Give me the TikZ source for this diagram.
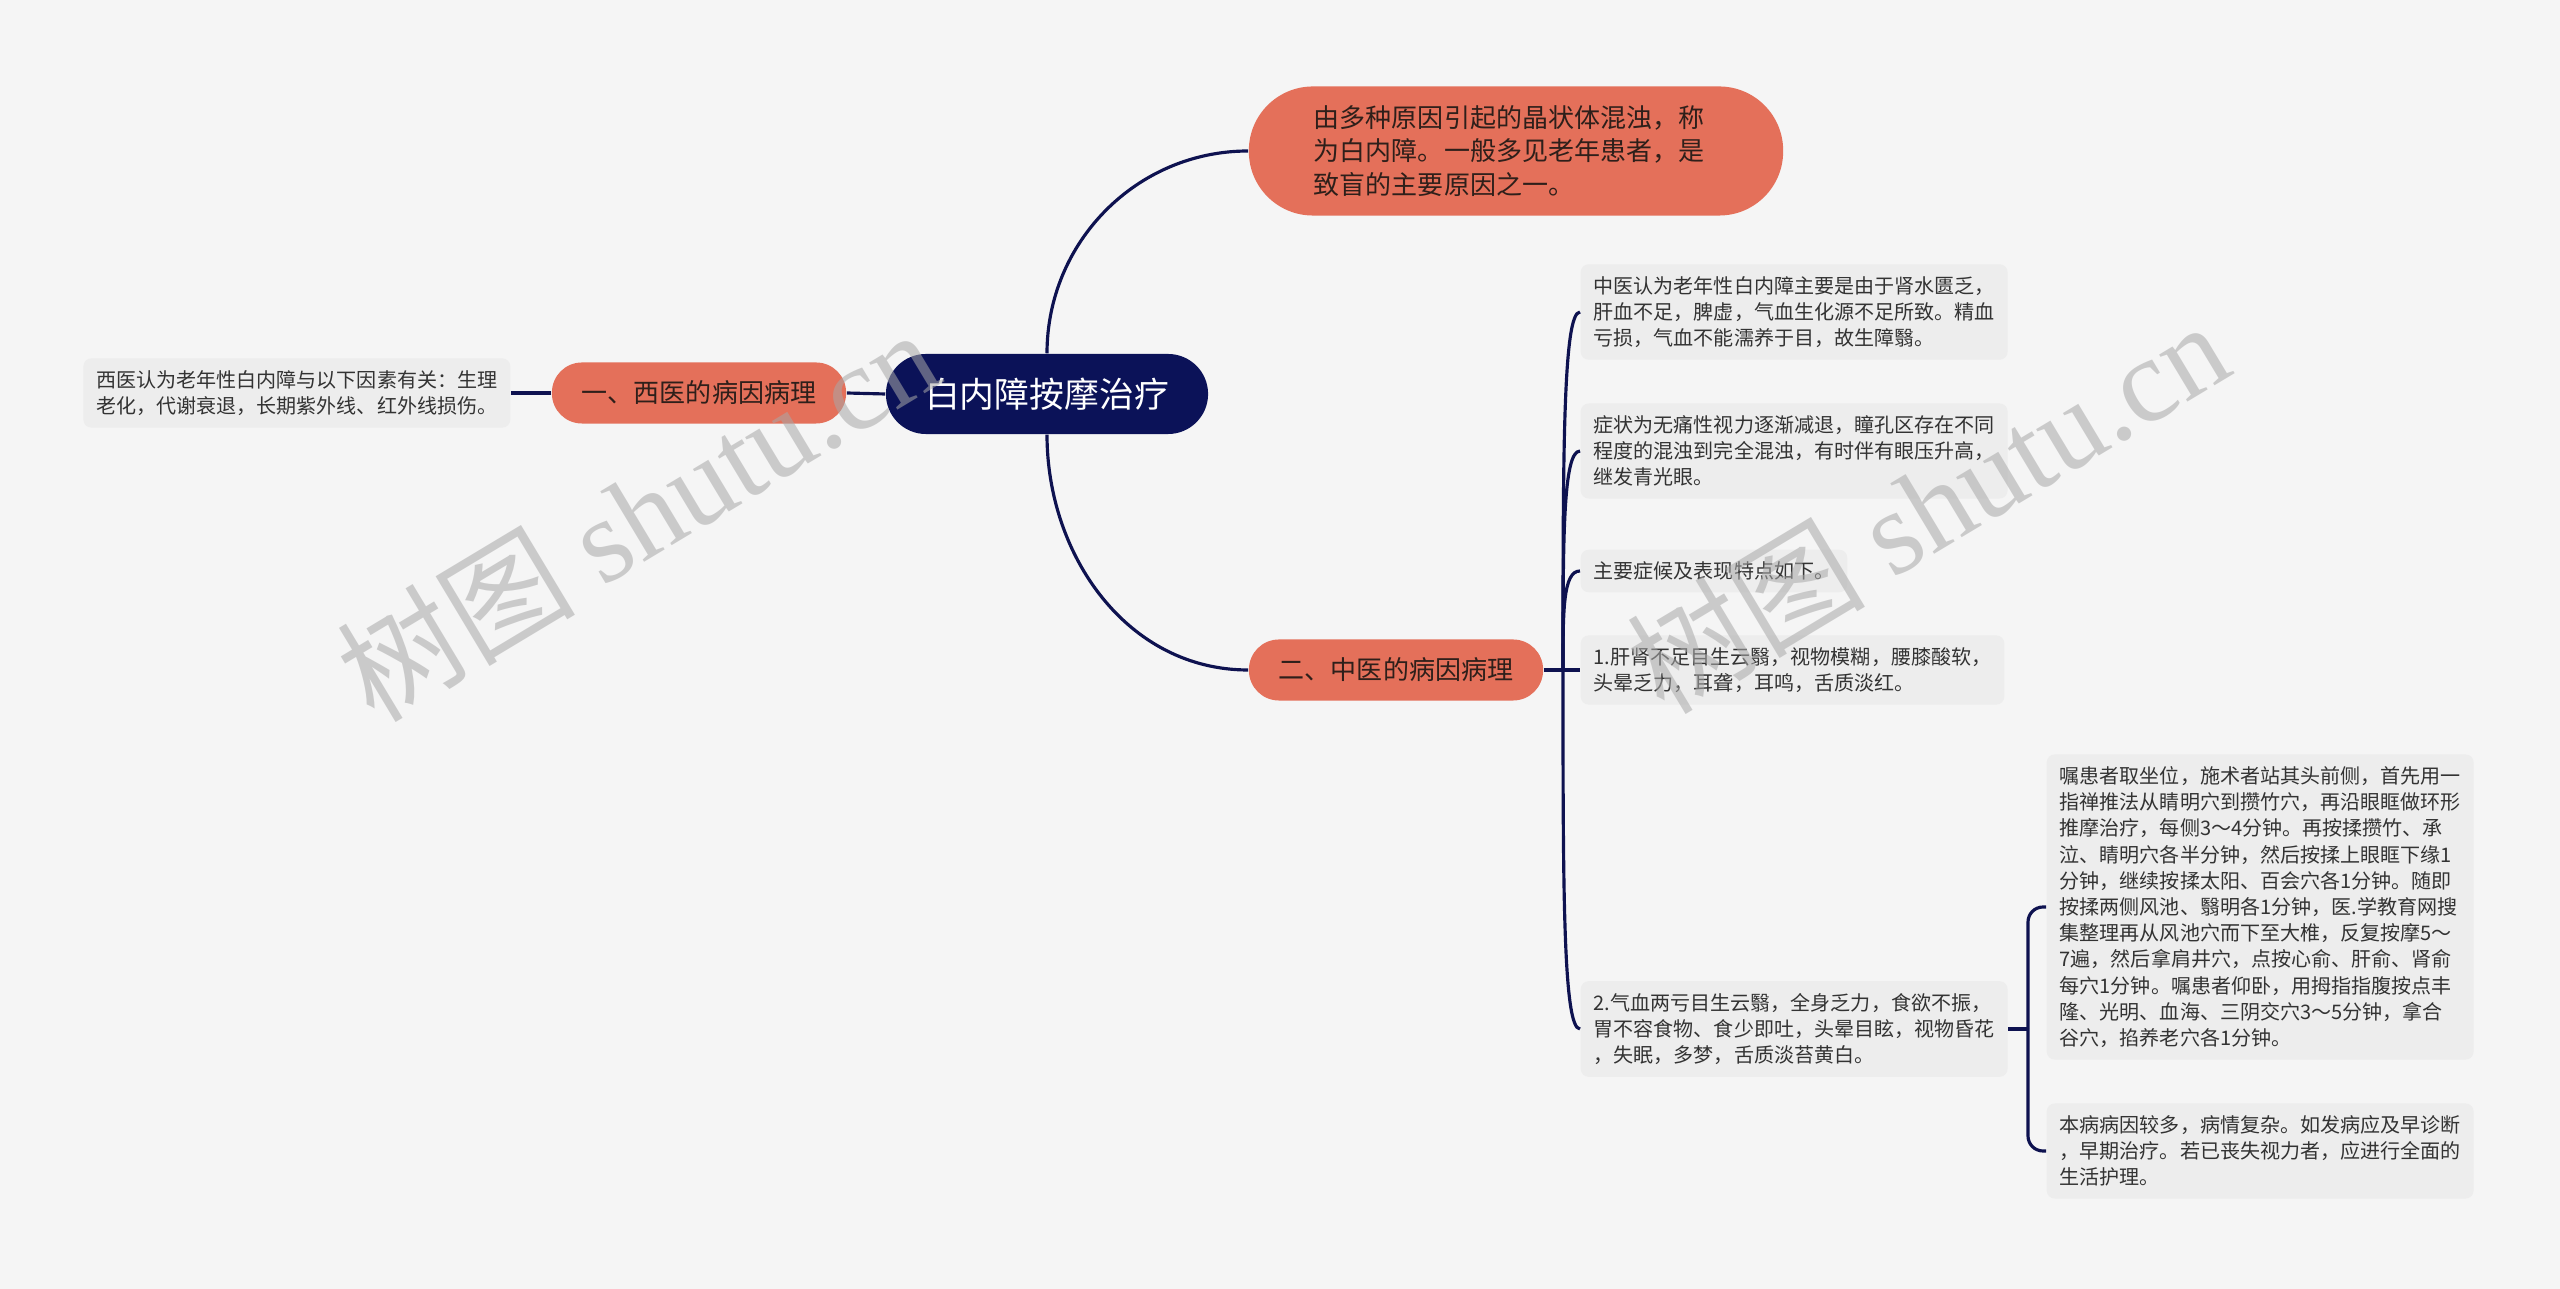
\documentclass[tikz,border=0pt]{standalone}
\usepackage{fontspec}
\setmainfont{Noto Sans CJK SC}
\newfontfamily\wmserif{Liberation Serif}
\definecolor{canvas}{HTML}{F5F5F5}
\definecolor{navy}{HTML}{0B1258}
\definecolor{coral}{HTML}{E4705A}
\definecolor{leaffill}{HTML}{EDEDED}
\definecolor{linecol}{HTML}{0E1250}
\definecolor{txt}{HTML}{333333}
\definecolor{txtdark}{HTML}{2E1F1A}
\definecolor{wmgray}{HTML}{A8A8A8}
\usetikzlibrary{positioning,calc}

\begin{document}
\begin{tikzpicture}[
    x=0.01cm,y=0.01cm,
    mainbox/.style={fill=navy,text=white,rounded corners=0.4cm,
      minimum width=3.22cm,minimum height=0.8cm,inner sep=0pt,
      font=\fontsize{9.9}{12}\selectfont},
    branchbox/.style={fill=coral,text=txtdark,rounded corners=0.3cm,
      minimum width=2.94cm,minimum height=0.61cm,inner sep=0pt,
      font=\fontsize{7.4}{9.6}\selectfont},
    topbox/.style={fill=coral,text=txtdark,rounded corners=0.64cm,
      minimum height=1.29cm,text width=4.04cm,align=left,
      inner xsep=0.65cm,inner ysep=0pt,font=\fontsize{7.4}{9.6}\selectfont},
    leafbox/.style={fill=leaffill,text=txt,rounded corners=0.08cm,
      align=left,inner xsep=0.13cm,inner ysep=0.12cm,
      font=\fontsize{5.7}{7.45}\selectfont},
    link/.style={draw=linecol,line width=0.9pt},
    twig/.style={to path={.. controls ($(\tikztostart)!0.6!(\tikztostart |- \tikztotarget)$)
      and (\tikztostart |- \tikztotarget) .. (\tikztotarget)}},
    wmark/.style={text=wmgray,text opacity=0.55,rotate=31,
      font=\fontsize{34}{34}\selectfont},
  ]
    \fill[canvas] (0,0) rectangle (2560,-1289);

    % centre and the two main branches
    \node[mainbox] (root) at (1047,-394) {白内障按摩治疗};
    \node[branchbox] (xiyi) at (699,-393) {一、西医的病因病理};
    \node[branchbox] (zhongyi) at (1396,-670) {二、中医的病因病理};
    \node[topbox] (gaishu) at (1516,-151)
      {由多种原因引起的晶状体混浊，称\\为白内障。一般多见老年患者，是\\致盲的主要原因之一。};

    \node[leafbox,anchor=east] (xiyileaf) at (511,-393)
      {西医认为老年性白内障与以下因素有关：生理\\老化，代谢衰退，长期紫外线、红外线损伤。};

    % leaves of the second branch
    \node[leafbox,anchor=west] (bingji) at (1580,-312)
      {中医认为老年性白内障主要是由于肾水匮乏，\\肝血不足，脾虚，气血生化源不足所致。精血\\亏损，气血不能濡养于目，故生障翳。};
    \node[leafbox,anchor=west] (zhengzhuang) at (1580,-451)
      {症状为无痛性视力逐渐减退，瞳孔区存在不同\\程度的混浊到完全混浊，有时伴有眼压升高，\\继发青光眼。};
    \node[leafbox,anchor=west] (tedian) at (1580,-571)
      {主要症候及表现特点如下。};
    \node[leafbox,anchor=west] (ganshen) at (1580,-670)
      {1.肝肾不足目生云翳，视物模糊，腰膝酸软，\\头晕乏力，耳聋，耳鸣，舌质淡红。};
    \node[leafbox,anchor=west] (qixue) at (1580,-1029)
      {2.气血两亏目生云翳，全身乏力，食欲不振，\\胃不容食物、食少即吐，头晕目眩，视物昏花\\，失眠，多梦，舌质淡苔黄白。};

    \node[leafbox,anchor=west] (anmo) at (2046,-907)
      {嘱患者取坐位，施术者站其头前侧，首先用一\\指禅推法从睛明穴到攒竹穴，再沿眼眶做环形\\推摩治疗，每侧3～4分钟。再按揉攒竹、承\\泣、睛明穴各半分钟，然后按揉上眼眶下缘1\\分钟，继续按揉太阳、百会穴各1分钟。随即\\按揉两侧风池、翳明各1分钟，医.学教育网搜\\集整理再从风池穴而下至大椎，反复按摩5～\\7遍，然后拿肩井穴，点按心俞、肝俞、肾俞\\每穴1分钟。嘱患者仰卧，用拇指指腹按点丰\\隆、光明、血海、三阴交穴3～5分钟，拿合\\谷穴，掐养老穴各1分钟。};
    \node[leafbox,anchor=west] (huli) at (2046,-1151)
      {本病病因较多，病情复杂。如发病应及早诊断\\，早期治疗。若已丧失视力者，应进行全面的\\生活护理。};

    % connectors
    \draw[link] (root.west) -- (xiyi.east);
    \draw[link] (xiyi.west) -- (xiyileaf.east);
    \draw[link] (root.north) to[out=90,in=180] (gaishu.west);
    \draw[link] (root.south) to[out=-90,in=180] (zhongyi.west);

    \coordinate (hub) at (1563,-670);
    \draw[link] (zhongyi.east) -- (ganshen.west);
    \draw[link] (hub) to[twig] (bingji.west);
    \draw[link] (hub) to[twig] (zhengzhuang.west);
    \draw[link] (hub) to[twig] (tedian.west);
    \draw[link] (hub) to[twig] (qixue.west);

    \coordinate (hubb) at (2028,-1029);
    \draw[link] (qixue.east) -- (hubb);
    \draw[link,rounded corners=0.15cm] (hubb) |- (anmo.west);
    \draw[link,rounded corners=0.15cm] (hubb) |- (huli.west);

    % watermark
    \node[wmark] (wmleft) at (637,-514) {树图 {\wmserif shutu.cn}};
    \node[wmark] (wmright) at (1927,-506) {树图 {\wmserif shutu.cn}};
  \end{tikzpicture}
\end{document}
